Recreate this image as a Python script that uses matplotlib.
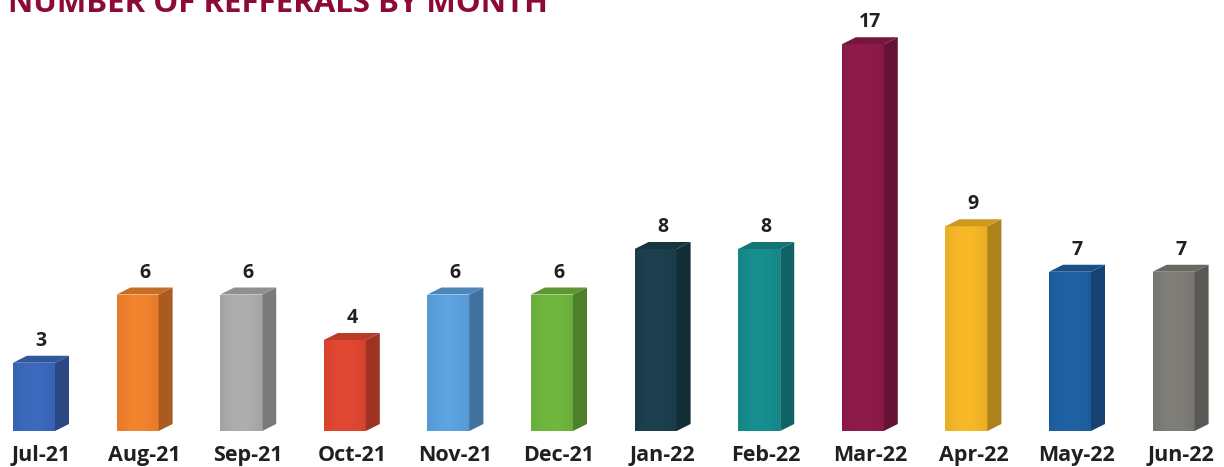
import matplotlib
matplotlib.use("Agg")
import matplotlib.pyplot as plt
from matplotlib.patches import Polygon
import matplotlib.colors as mcolors
import numpy as np

months = ["Jul-21", "Aug-21", "Sep-21", "Oct-21", "Nov-21", "Dec-21",
          "Jan-22", "Feb-22", "Mar-22", "Apr-22", "May-22", "Jun-22"]
referrals = [3, 6, 6, 4, 6, 6, 8, 8, 17, 9, 7, 7]
bar_colors = ["#3a66b8", "#ec7f2c", "#a9a9a9", "#dc4530", "#5a9edb", "#6cb23c",
              "#1b3e4c", "#168a8b", "#8c1a48", "#f1b426", "#1e5f9f", "#7b7a75"]
title = "NUMBER OF REFFERALS BY MONTH"

W, H = 1224, 467
fig = plt.figure(figsize=(W / 100, H / 100), dpi=100)
ax = fig.add_axes([0, 0, 1, 1])
ax.set_axis_off()

unit_px = 103.6
val_px = 22.75
base_px = 431
first_px = 41
ax.set_xlim(-first_px / unit_px, (W - first_px) / unit_px)
ax.set_ylim(-(H - base_px) / val_px, base_px / val_px)

front_w = 42 / unit_px
side_w = 14 / unit_px
depth_y = 7 / val_px
left_off = -28 / unit_px
text_col = "#231f20"


def shade(c, f):
    r, g, b = mcolors.to_rgb(c)
    return (r * f, g * f, b * f)


for i, (v, c) in enumerate(zip(referrals, bar_colors)):
    x0 = i + left_off
    x1 = x0 + front_w
    x2 = x1 + side_w
    n = 12
    for k in range(n):
        xa = x0 + front_w * k / n
        xb = x0 + front_w * (k + 1) / n + 0.001
        t = k / (n - 1)
        f = 1.0 + 0.06 * np.sin(np.pi * t) - 0.03
        col = tuple(min(1, ch * f) for ch in mcolors.to_rgb(c))
        ax.add_patch(Polygon([(xa, 0), (xb, 0), (xb, v), (xa, v)], closed=True,
                             facecolor=col, edgecolor="none"))
    ax.add_patch(Polygon([(x1, 0), (x2, depth_y), (x2, v + depth_y), (x1, v)],
                         closed=True, facecolor=shade(c, 0.72), edgecolor="none"))
    ax.add_patch(Polygon([(x0, v), (x1, v), (x2, v + depth_y), (x0 + side_w, v + depth_y)],
                         closed=True, facecolor=shade(c, 0.85), edgecolor="none"))
    ax.text(i, v + 17 / val_px, str(v), ha="center", va="baseline",
            fontsize=14, fontweight="bold", color=text_col, family="Open Sans")
    ax.text(i, -30 / val_px, months[i], ha="center", va="baseline",
            fontsize=15.5, fontweight="bold", color=text_col, family="Open Sans")

fig.text(8 / W, 1 - 12 / H, title, ha="left", va="baseline",
         fontsize=22.5, fontweight="bold", color="#8b0a3a", family="Open Sans")

fig.savefig("out.png", dpi=100, facecolor="white")
